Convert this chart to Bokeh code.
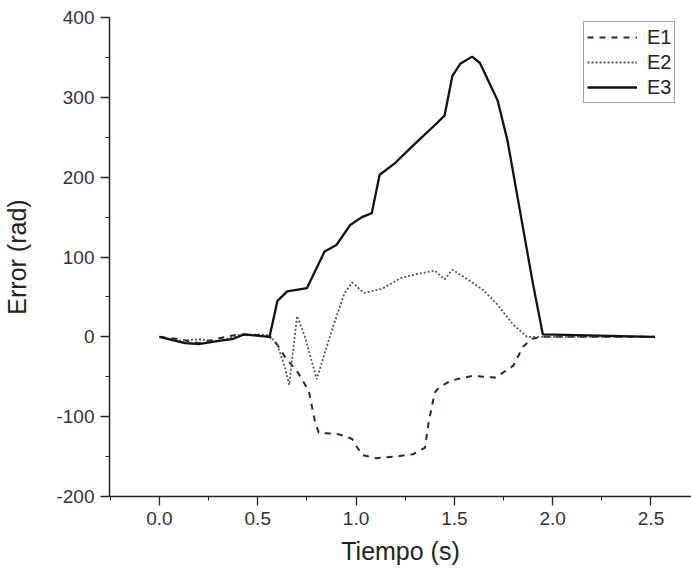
from bokeh.plotting import figure
from bokeh.models import Range1d, FixedTicker, PrintfTickFormatter, Legend, LegendItem
from bokeh.embed import file_html
from bokeh.resources import INLINE

# ---- data ----
t_e1 = [0.0, 0.1, 0.2, 0.3, 0.4, 0.5, 0.56, 0.6, 0.64, 0.70, 0.76, 0.79, 0.81, 0.91, 0.95,
        0.98, 1.03, 1.10, 1.20, 1.29, 1.35, 1.37, 1.40, 1.42, 1.48, 1.59, 1.71, 1.80, 1.85,
        1.90, 1.95, 2.52]
e1 = [0, -3, -8, -2, 3, 2, 0, -10, -26, -43, -68, -105, -120, -122, -125,
      -128, -148, -152, -150, -147, -139, -106, -70, -64, -55, -49, -51, -36, -12,
      -2, 0, 0]

t_e2 = [0.0, 0.1, 0.2, 0.3, 0.4, 0.5, 0.56, 0.6, 0.64, 0.66, 0.70, 0.74, 0.80, 0.87, 0.94,
        0.98, 1.04, 1.13, 1.23, 1.30, 1.40, 1.45, 1.49, 1.58, 1.65, 1.72, 1.80, 1.87, 2.52]
e2 = [0, -5, -3, -6, 2, 3, 2, -10, -40, -60, 26, 0, -53, 3, 54,
      68, 55, 60, 74, 78, 83, 72, 84, 70, 58, 40, 15, 0, 0]

t_e3 = [0.0, 0.13, 0.2, 0.3, 0.37, 0.43, 0.56, 0.60, 0.65, 0.75, 0.84, 0.90, 0.97, 1.03,
        1.08, 1.12, 1.20, 1.30, 1.40, 1.45, 1.49, 1.53, 1.59, 1.63, 1.72, 1.77, 1.84,
        1.90, 1.95, 2.52]
e3 = [0, -8, -9, -5, -3, 3, 0, 45, 57, 61, 107, 115, 140, 150,
      155, 203, 218, 242, 265, 277, 327, 342, 351, 343, 296, 246, 149,
      66, 3, 0]

x_ticks = [0.0, 0.5, 1.0, 1.5, 2.0, 2.5]
x_minor = [-0.25, 0.25, 0.75, 1.25, 1.75, 2.25]
y_ticks = [-200, -100, 0, 100, 200, 300, 400]
y_minor = [-150, -50, 50, 150, 250, 350]

FONT = "Liberation Sans"

p = figure(width=691, height=571, output_backend="svg", toolbar_location=None,
           x_range=Range1d(-0.254, 2.706), y_range=Range1d(-200, 400),
           min_border_left=108, min_border_top=17, min_border_right=0, min_border_bottom=75)
p.outline_line_color = None
p.grid.visible = False
p.background_fill_color = "white"
p.border_fill_color = "white"

r1 = p.line(t_e1, e1, line_color="#3a1f1f", line_width=2.0, line_dash="6 6")
r2 = p.line(t_e2, e2, line_color="#555555", line_width=1.8, line_dash="2 2")
r3 = p.line(t_e3, e3, line_color="#111111", line_width=2.3)

p.xaxis.ticker = FixedTicker(ticks=x_ticks, minor_ticks=x_minor)
p.yaxis.ticker = FixedTicker(ticks=y_ticks, minor_ticks=y_minor)
p.xaxis.formatter = PrintfTickFormatter(format="%.1f")
p.yaxis.formatter = PrintfTickFormatter(format="%d")

for ax in (p.xaxis[0], p.yaxis[0]):
    ax.axis_line_color = "#222222"
    ax.axis_line_width = 1.5
    ax.major_tick_line_color = "#222222"
    ax.minor_tick_line_color = "#222222"
    ax.major_tick_in = 0
    ax.major_tick_out = 9
    ax.minor_tick_in = 0
    ax.minor_tick_out = 4
    ax.major_tick_line_width = 1.3
    ax.minor_tick_line_width = 1.0
    ax.major_label_text_font = FONT
    ax.major_label_text_font_size = "19px"
    ax.major_label_text_color = "#333333"
    ax.axis_label_text_font = FONT
    ax.axis_label_text_font_size = "25px"
    ax.axis_label_text_font_style = "normal"
    ax.axis_label_text_color = "#222222"

p.xaxis.major_label_standoff = 6
p.yaxis.major_label_standoff = 6
p.xaxis.axis_label = "Tiempo (s)"
p.yaxis.axis_label = "Error (rad)"
p.xaxis.axis_label_standoff = 9
p.yaxis.axis_label_standoff = 22

legend = Legend(items=[LegendItem(label="E1", renderers=[r1]),
                       LegendItem(label="E2", renderers=[r2]),
                       LegendItem(label="E3", renderers=[r3])],
                location=(474, 393))
legend.border_line_color = "#444444"
legend.border_line_width = 1
legend.background_fill_alpha = 1
legend.padding = 3
legend.spacing = 1
legend.margin = 0
legend.glyph_width = 50
legend.glyph_height = 24
legend.label_height = 24
legend.label_standoff = 10
legend.label_text_font = FONT
legend.label_text_font_size = "20px"
legend.label_text_color = "#222222"
p.add_layout(legend)

open("out.html", "w").write(file_html(p, INLINE))
